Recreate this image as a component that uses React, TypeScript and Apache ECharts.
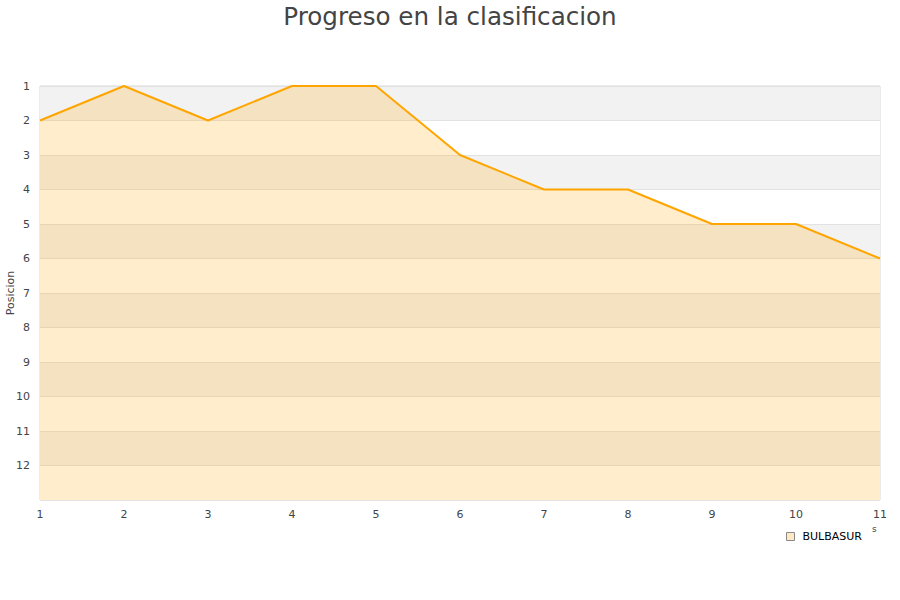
import React, { useEffect, useRef } from "react";
import * as echarts from "echarts";

const jornadas = [1, 2, 3, 4, 5, 6, 7, 8, 9, 10, 11];
const posiciones = [2, 1, 2, 1, 1, 3, 4, 4, 5, 5, 6];
const teamName = "BULBASUR";
const titleText = "Progreso en la clasificacion";

export default function App() {
  const ref = useRef<HTMLDivElement>(null);
  useEffect(() => {
    const chart = echarts.init(ref.current!, null, { renderer: "svg" });
    const font = "DejaVu Sans";
    chart.setOption({
      animation: false,
      title: {
        text: titleText,
        left: "center",
        top: -1,
        textStyle: { fontFamily: font, fontSize: 24.6, fontWeight: "normal", color: "#444" },
      },
      grid: {
        left: 40,
        right: 20,
        top: 86,
        bottom: 100,
        show: true,
        borderColor: "#d8d8d8",
        borderWidth: 1,
        backgroundColor: "transparent",
        outerBoundsMode: "none",
        containLabel: false,
      },
      legend: {
        data: [{ name: teamName, icon: "rect", itemStyle: { color: "#ffe9c4", borderColor: "#888", borderWidth: 1 } }],
        left: 781,
        top: 526,
        itemWidth: 8,
        itemHeight: 8,
        itemGap: 6,
        textStyle: { fontFamily: font, fontSize: 11, color: "#000", padding: [0, 0, 0, 3] },
      },
      graphic: [
        {
          type: "text",
          left: 872,
          top: 524,
          style: { text: "s", fontFamily: font, fontSize: 9, fill: "#444" },
        },
      ],
      xAxis: {
        type: "value",
        min: 1,
        max: 11,
        interval: 1,
        axisLine: { show: false },
        axisTick: { show: false },
        splitLine: { show: false },
        axisLabel: { fontFamily: font, fontSize: 11, color: "#444", margin: 9 },
      },
      yAxis: {
        type: "value",
        inverse: true,
        min: 1,
        max: 13,
        interval: 1,
        name: "Posicion",
        nameLocation: "middle",
        nameGap: 24.5,
        nameMoveOverlap: false,
        nameTextStyle: { fontFamily: font, fontSize: 11, color: "#444" },
        axisLine: { show: false },
        axisTick: { show: false },
        axisLabel: {
          fontFamily: font,
          fontSize: 11,
          color: "#444",
          margin: 10,
          formatter: (v: number) => (v >= 13 ? "" : String(v)),
        },
        splitLine: { show: true, lineStyle: { color: "#e2e2e2", width: 1 } },
        splitArea: { show: true, areaStyle: { color: ["#f2f2f2", "#ffffff"] } },
      },
      series: [
        {
          name: teamName,
          type: "line",
          data: jornadas.map((j, i) => [j, posiciones[i]]),
          symbol: "none",
          lineStyle: { color: "#ffa500", width: 2 },
          itemStyle: { color: "#ffa500" },
          areaStyle: { color: "#ffa500", opacity: 0.2, origin: "end" },
        },
      ],
    });
    return () => chart.dispose();
  }, []);
  return <div ref={ref} style={{ width: 900, height: 600, position: "absolute", left: 0, top: 0 }} />;
}
